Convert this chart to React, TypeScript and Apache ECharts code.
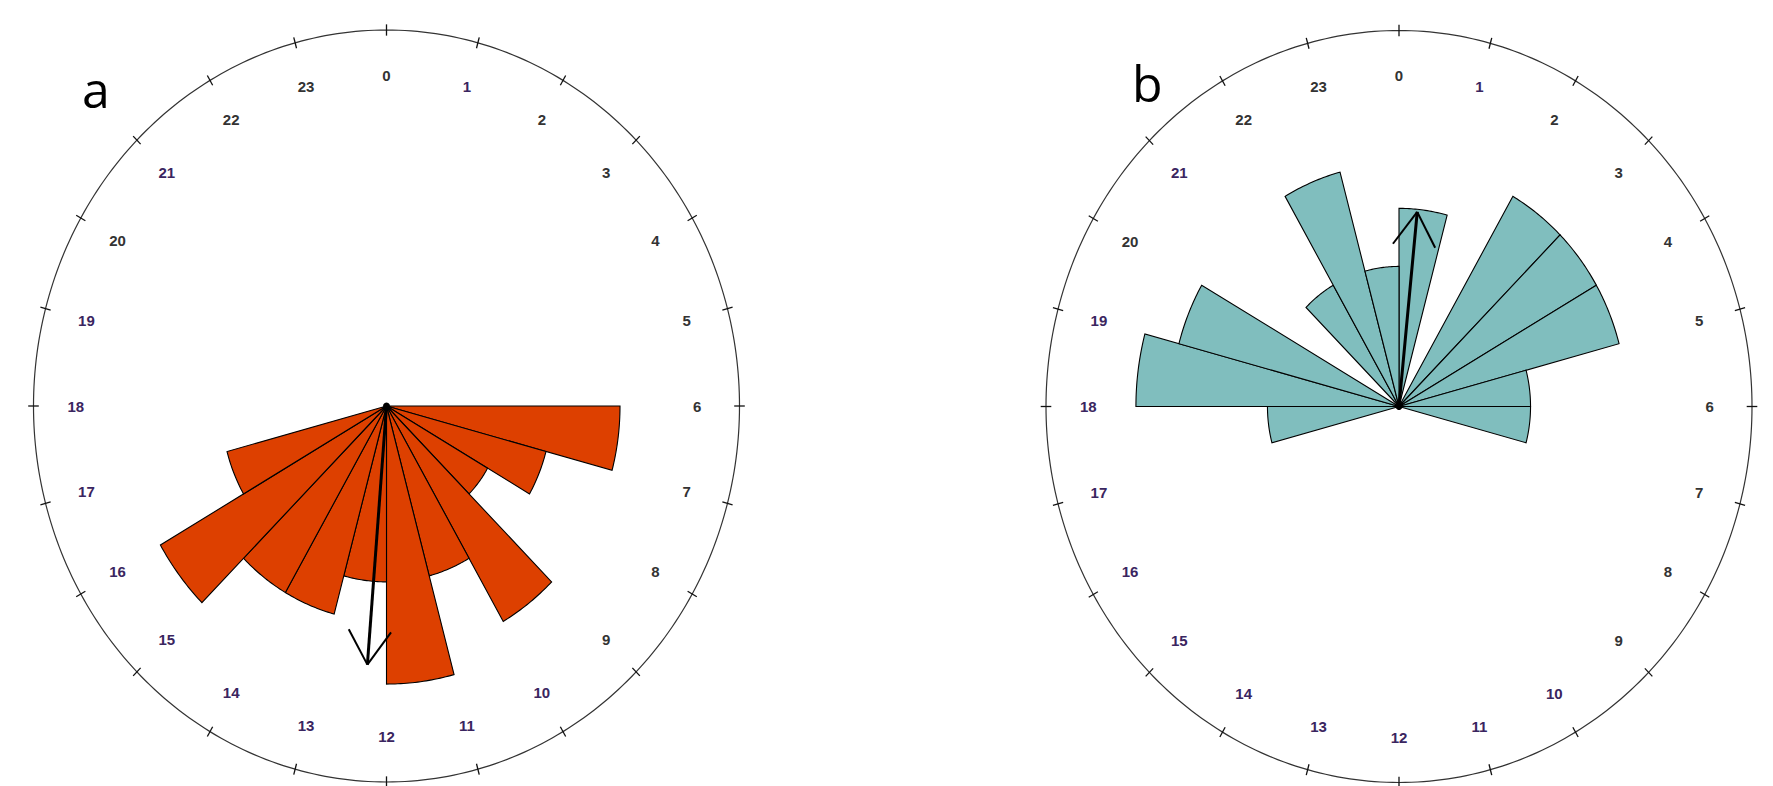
import React, { useEffect, useRef } from "react";
import * as echarts from "echarts";

// ---- data ----
const hourLabels = ["0","1","2","3","4","5","6","7","8","9","10","11","12","13","14","15","16","17","18","19","20","21","22","23"];
// counts per hour bin (rose diagram, radius ~ sqrt(count / total))
const countsA = [0,0,0,0,0,0,4,2,1,4,2,5,2,3,3,5,2,0,0,0,0,0,0,0];
const countsB = [2,0,3,3,3,1,1,0,0,0,0,0,0,0,0,0,0,1,4,3,0,1,3,1];
// mean direction (hours) and mean resultant length of each panel
const meanHours = [12.3, 0.38];
const meanLengths = [0.69, 0.52];
const panelNames = ["a", "b"];

const RADIUS_SCALE = 1.9;
const FILLS = ["#DD4000", "#80BEBE"];

function buildPanel(idx: number, counts: number[]) {
  const total = counts.reduce((s, v) => s + v, 0);
  const axisRef = { xAxisIndex: idx, yAxisIndex: idx };
  const fill = FILLS[idx];
  const series: any[] = [];

  // outer circle
  series.push({
    type: "custom",
    ...axisRef,
    silent: true,
    data: [[1]],
    renderItem: (params: any, api: any) => {
      const r = api.value(0);
      const pts: number[][] = [];
      for (let k = 0; k <= 360; k++) {
        const t = (k * Math.PI) / 180;
        pts.push(api.coord([r * Math.sin(t), r * Math.cos(t)]));
      }
      return { type: "polyline", shape: { points: pts }, style: { stroke: "#333", lineWidth: 1.2, fill: "none" } };
    },
  });

  // ticks at each hour
  series.push({
    type: "custom",
    ...axisRef,
    silent: true,
    data: hourLabels.map((_, i) => [i]),
    renderItem: (params: any, api: any) => {
      const h = api.value(0);
      const t = (h * Math.PI) / 12;
      const p1 = api.coord([0.985 * Math.sin(t), 0.985 * Math.cos(t)]);
      const p2 = api.coord([1.015 * Math.sin(t), 1.015 * Math.cos(t)]);
      return { type: "line", shape: { x1: p1[0], y1: p1[1], x2: p2[0], y2: p2[1] }, style: { stroke: "#111", lineWidth: 1.3 } };
    },
  });

  // hour labels
  series.push({
    type: "custom",
    ...axisRef,
    silent: true,
    data: hourLabels.map((_, i) => [i]),
    renderItem: (params: any, api: any) => {
      const h = api.value(0);
      const t = (h * Math.PI) / 12;
      const p = api.coord([0.88 * Math.sin(t), 0.88 * Math.cos(t)]);
      const label = hourLabels[h];
      return {
        type: "text",
        x: p[0],
        y: p[1],
        style: {
          text: label,
          fill: label.includes("1") ? "#3a2560" : "#333333",
          fontSize: 15,
          fontWeight: "bold",
          fontFamily: "Liberation Sans, Arial, sans-serif",
          align: "center",
          verticalAlign: "middle",
        },
      };
    },
  });

  // rose bars
  series.push({
    type: "custom",
    ...axisRef,
    silent: true,
    data: counts.map((c, i) => [i, c]),
    renderItem: (params: any, api: any) => {
      const h = api.value(0);
      const c = api.value(1);
      if (!c) return null;
      const r = RADIUS_SCALE * Math.sqrt(c / total);
      const pts: number[][] = [api.coord([0, 0])];
      for (let k = 0; k <= 24; k++) {
        const t = ((h + k / 24) * Math.PI) / 12;
        pts.push(api.coord([r * Math.sin(t), r * Math.cos(t)]));
      }
      return { type: "polygon", shape: { points: pts }, style: { fill, stroke: "#000", lineWidth: 1.1 } };
    },
  });

  // center dot + mean direction arrow
  series.push({
    type: "custom",
    ...axisRef,
    silent: true,
    data: [[meanHours[idx], meanLengths[idx]]],
    renderItem: (params: any, api: any) => {
      const h = api.value(0);
      const rho = api.value(1);
      const t = (h * Math.PI) / 12;
      const c = api.coord([0, 0]);
      const tip = api.coord([rho * Math.sin(t), rho * Math.cos(t)]);
      const dx = c[0] - tip[0];
      const dy = c[1] - tip[1];
      const len = Math.sqrt(dx * dx + dy * dy);
      const ux = dx / len;
      const uy = dy / len;
      const headLen = 40;
      const ang = (32 * Math.PI) / 180;
      const rot = (a: number) => [
        tip[0] + headLen * (ux * Math.cos(a) - uy * Math.sin(a)),
        tip[1] + headLen * (ux * Math.sin(a) + uy * Math.cos(a)),
      ];
      const h1 = rot(ang);
      const h2 = rot(-ang);
      return {
        type: "group",
        children: [
          { type: "circle", shape: { cx: c[0], cy: c[1], r: 3.5 }, style: { fill: "#000" } },
          { type: "line", shape: { x1: c[0], y1: c[1], x2: tip[0], y2: tip[1] }, style: { stroke: "#000", lineWidth: 3 } },
          { type: "line", shape: { x1: tip[0], y1: tip[1], x2: h1[0], y2: h1[1] }, style: { stroke: "#000", lineWidth: 2 } },
          { type: "line", shape: { x1: tip[0], y1: tip[1], x2: h2[0], y2: h2[1] }, style: { stroke: "#000", lineWidth: 2 } },
        ],
      };
    },
  });

  return series;
}

export default function App() {
  const ref = useRef<HTMLDivElement>(null);
  useEffect(() => {
    if (!ref.current) return;
    const chart = echarts.init(ref.current, undefined, { renderer: "svg" });
    const grids = [
      { left: 33.5, top: 30, width: 706, height: 752 },
      { left: 1046, top: 30.5, width: 706, height: 752 },
    ];
    const option: any = {
      animation: false,
      backgroundColor: "#ffffff",
      title: [
        { text: panelNames[0], left: 82, top: 64, padding: 0, textStyle: { fontSize: 50, fontFamily: "Open Sans, sans-serif", fontWeight: "normal", color: "#000" } },
        { text: panelNames[1], left: 1132, top: 58, padding: 0, textStyle: { fontSize: 50, fontFamily: "Open Sans, sans-serif", fontWeight: "normal", color: "#000" } },
      ],
      grid: grids.map((g) => ({ ...g, containLabel: false })),
      xAxis: grids.map((_, i) => ({ type: "value", gridIndex: i, min: -1, max: 1, show: false })),
      yAxis: grids.map((_, i) => ({ type: "value", gridIndex: i, min: -1, max: 1, show: false })),
      series: [...buildPanel(0, countsA), ...buildPanel(1, countsB)],
    };
    chart.setOption(option);
    return () => chart.dispose();
  }, []);
  return (
    <div
      ref={ref}
      style={{ position: "absolute", left: 0, top: 0, width: 1773, height: 786, background: "#fff" }}
    />
  );
}
